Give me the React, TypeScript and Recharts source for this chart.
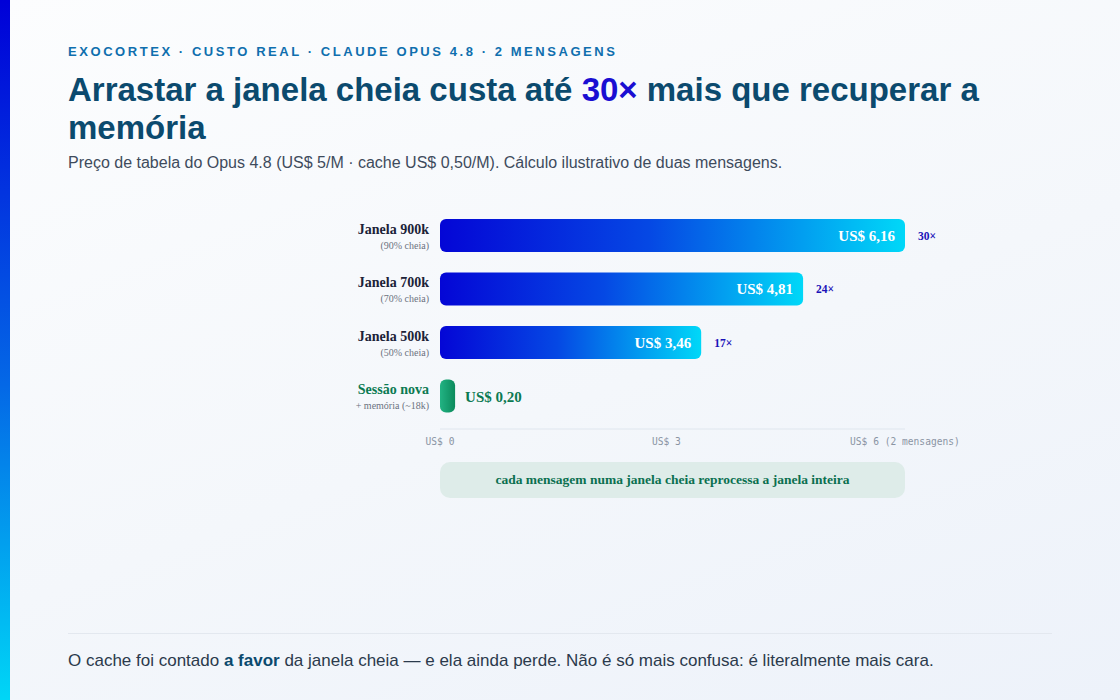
import React from "react";
import { BarChart, Bar, XAxis, YAxis, Cell, LabelList } from "recharts";

const categories = ["Janela 900k", "Janela 700k", "Janela 500k", "Sessão nova"];
const subLabels = ["(90% cheia)", "(70% cheia)", "(50% cheia)", "+ memória (~18k)"];
const costs = [6.16, 4.81, 3.46, 0.2];
const multipliers = ["30×", "24×", "17×", ""];
const xTicks = [0, 3, 6];
const xTickLabels = ["US$ 0", "US$ 3", "US$ 6 (2 mensagens)"];

const data = categories.map((c, i) => ({ name: c, sub: subLabels[i], cost: costs[i], mult: multipliers[i] }));

const SERIF = '"Liberation Serif", "DejaVu Serif", serif';
const SANS = '"Liberation Sans", Arial, sans-serif';
const MONO = '"DejaVu Sans Mono", "Liberation Mono", monospace';

const fmt = (v: number) => "US$ " + v.toFixed(2).replace(".", ",");

const YTick = (props: any) => {
  const { x, y, payload } = props;
  const idx = categories.indexOf(payload.value);
  const isNew = idx === categories.length - 1;
  return (
    <g>
      <text x={x} y={y - 2} textAnchor="end" fontFamily={SERIF} fontWeight={700} fontSize={14} fill={isNew ? "#0b7a52" : "#1b2238"}>
        {payload.value}
      </text>
      <text x={x} y={y + 13} textAnchor="end" fontFamily={SERIF} fontSize={10} fill="#6b7280">
        {subLabels[idx]}
      </text>
    </g>
  );
};

const XTick = (props: any) => {
  const { x, y, payload } = props;
  const idx = xTicks.indexOf(payload.value);
  const last = idx === xTicks.length - 1;
  return (
    <text x={last ? x + 12 : x} y={y + 8} textAnchor="middle" fontFamily={MONO} fontSize={9.6} fill="#8a94a3">
      {xTickLabels[idx]}
    </text>
  );
};

const ValueLabel = (props: any) => {
  const { x, y, width, height, value } = props;
  const cy = y + height / 2;
  if (value >= 1) {
    return (
      <text x={x + width - 10} y={cy} dy="0.35em" textAnchor="end" fontFamily={SERIF} fontWeight={700} fontSize={15} fill="#ffffff">
        {fmt(value)}
      </text>
    );
  }
  return (
    <text x={x + width + 10} y={cy} dy="0.38em" textAnchor="start" fontFamily={SERIF} fontWeight={700} fontSize={15} fill="#0b7a52">
      {fmt(value)}
    </text>
  );
};

const MultLabel = (props: any) => {
  const { x, y, width, height, value } = props;
  if (!value) return null;
  return (
    <text x={x + width + 13} y={y + height / 2} dy="0.38em" textAnchor="start" fontFamily={SERIF} fontWeight={700} fontSize={11.5} fill="#1a12b8">
      {value}
    </text>
  );
};

export default function App() {
  return (
    <div
      style={{
        position: "fixed",
        left: 0,
        top: 0,
        width: 1120,
        height: 700,
        overflow: "hidden",
        background: "linear-gradient(160deg, #fcfdfe 0%, #f4f7fb 55%, #edf2fa 100%)",
        fontFamily: SANS,
      }}
    >
      <div style={{ position: "absolute", left: 0, top: 0, width: 10, height: 700, background: "linear-gradient(180deg, #0000d8 0%, #0468e6 55%, #00d6f6 100%)" }} />
      <div style={{ position: "absolute", left: 68, top: 44, fontSize: 13, fontWeight: 700, letterSpacing: 2.56, color: "#0f6fae", whiteSpace: "nowrap" }}>
        EXOCORTEX · CUSTO REAL · CLAUDE OPUS 4.8 · 2 MENSAGENS
      </div>
      <div style={{ position: "absolute", left: 68, top: 71, fontSize: 33, fontWeight: 700, lineHeight: "37.5px", color: "#0b4a6e", whiteSpace: "nowrap" }}>
        Arrastar a janela cheia custa até <span style={{ color: "#1a0ed2" }}>30×</span> mais que recuperar a
        <br />
        memória
      </div>
      <div style={{ position: "absolute", left: 68, top: 154, fontSize: 16, color: "#3e4b5c", whiteSpace: "nowrap" }}>
        Preço de tabela do Opus 4.8 (US$ 5/M · cache US$ 0,50/M). Cálculo ilustrativo de duas mensagens.
      </div>

      <div style={{ position: "absolute", left: 0, top: 0 }}>
        <BarChart
          width={1120}
          height={480}
          data={data}
          layout="vertical"
          margin={{ top: 209, right: 215, bottom: 21, left: 240 }}
          barCategoryGap={0}
        >
          <defs>
            <linearGradient id="gradBlue" x1="0" y1="0" x2="1" y2="0">
              <stop offset="0%" stopColor="#0406d6" />
              <stop offset="45%" stopColor="#0548e4" />
              <stop offset="100%" stopColor="#00d8f8" />
            </linearGradient>
            <linearGradient id="gradGreen" x1="0" y1="0" x2="1" y2="0">
              <stop offset="0%" stopColor="#22b383" />
              <stop offset="100%" stopColor="#0b8a5c" />
            </linearGradient>
          </defs>
          <XAxis
            type="number"
            domain={[0, 6.16]}
            ticks={xTicks}
            tick={<XTick />}
            tickLine={false}
            axisLine={{ stroke: "#dfe6ee", strokeWidth: 1 }}
            height={30}
          />
          <YAxis
            type="category"
            dataKey="name"
            width={200}
            tick={<YTick />}
            tickLine={false}
            axisLine={false}
            tickMargin={5}
            padding={{ top: 0, bottom: 6 }}
          />
          <Bar dataKey="cost" barSize={33} radius={6} isAnimationActive={false}>
            {data.map((d, i) => (
              <Cell key={i} fill={i === data.length - 1 ? "url(#gradGreen)" : "url(#gradBlue)"} />
            ))}
            <LabelList dataKey="cost" content={<ValueLabel />} />
            <LabelList dataKey="mult" content={<MultLabel />} />
          </Bar>
        </BarChart>
      </div>

      <div
        style={{
          position: "absolute",
          left: 440,
          top: 462,
          width: 465,
          height: 36,
          borderRadius: 10,
          background: "#deece9",
          display: "flex",
          alignItems: "center",
          justifyContent: "center",
          fontFamily: SERIF,
          fontWeight: 700,
          fontSize: 13.5,
          color: "#0b7050",
        }}
      >
        cada mensagem numa janela cheia reprocessa a janela inteira
      </div>

      <div style={{ position: "absolute", left: 68, top: 633, width: 984, height: 1, background: "#e3e8ef" }} />
      <div style={{ position: "absolute", left: 68, top: 651, fontSize: 17, color: "#2b3a4c", whiteSpace: "nowrap" }}>
        O cache foi contado <b style={{ color: "#0b4a6e" }}>a favor</b> da janela cheia — e ela ainda perde. Não é só mais confusa: é literalmente mais cara.
      </div>
    </div>
  );
}
